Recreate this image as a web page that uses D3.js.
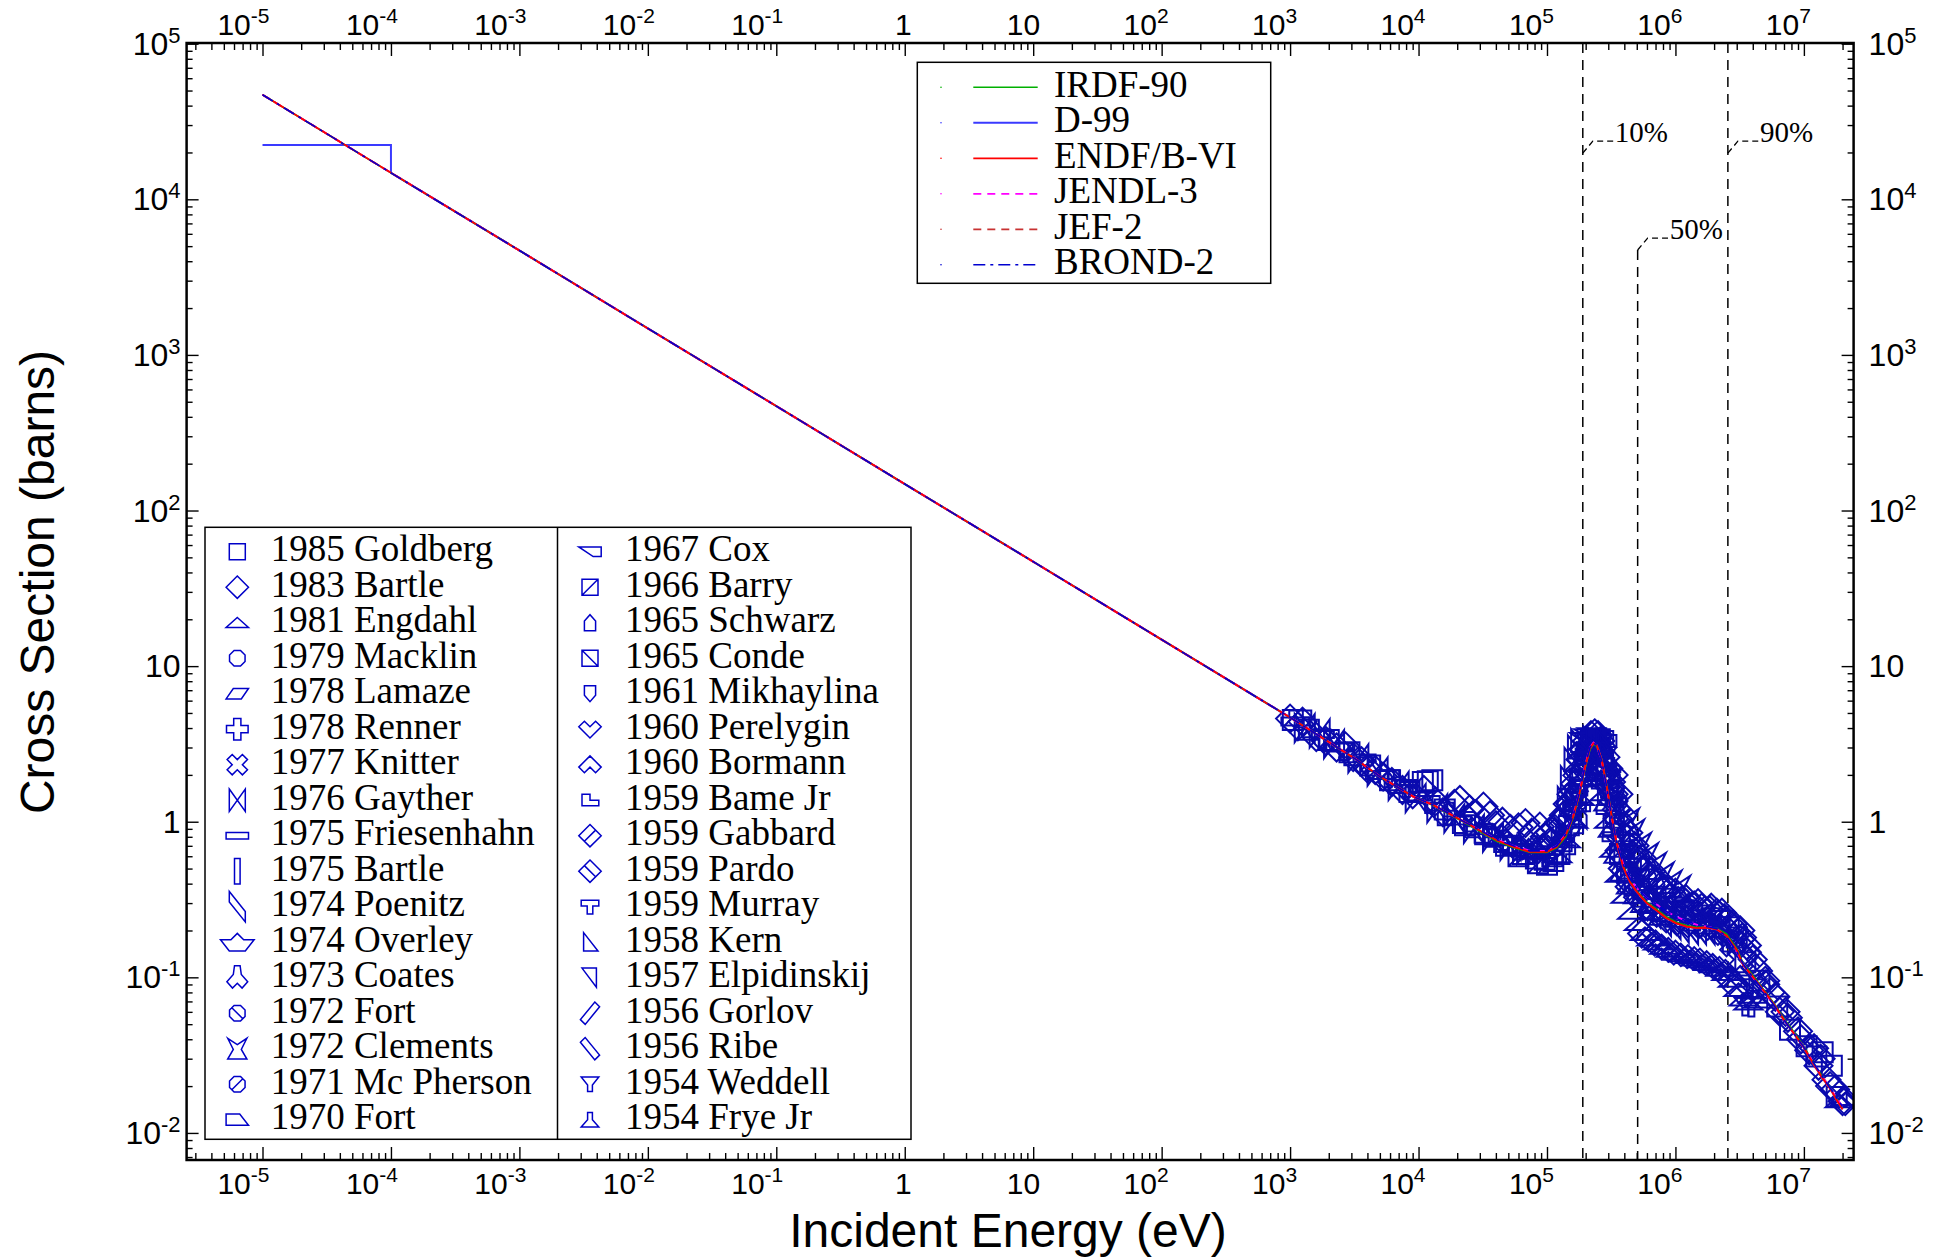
<!DOCTYPE html>
<html>
<head>
<meta charset="utf-8">
<script src="https://cdn.jsdelivr.net/npm/d3@7"></script>
<style>
  body { margin: 0; background: #fff; }
</style>
</head>
<body>
<div id="chart"></div>
<script>
// ---------------- data ----------------
const xTickPowers = [-5, -4, -3, -2, -1, 0, 1, 2, 3, 4, 5, 6, 7];
const yTickPowers = [-2, -1, 0, 1, 2, 3, 4, 5];

// evaluated cross sections, [energy eV, sigma barns]
const thermalBranch = [[1e-5, 47000], [1e-4, 14800], [1e-3, 4690], [1e-2, 1480], [1e-1, 469],
  [1, 148], [10, 46.9], [100, 14.8], [1e3, 4.68]];
const endfFast = [[3.3e3, 2.5], [5e3, 1.95], [9.1e3, 1.45], [1.3e4, 1.28], [2.37e4, 0.98], [4.05e4, 0.76],
  [5.5e4, 0.69], [7.4e4, 0.64], [1.0e5, 0.64], [1.19e5, 0.69], [1.4e5, 0.82], [1.6e5, 1.08], [1.8e5, 1.55],
  [1.98e5, 2.25], [2.16e5, 2.96], [2.3e5, 3.19], [2.44e5, 3.1], [2.67e5, 2.49], [2.92e5, 1.68], [3.19e5, 1.08],
  [3.49e5, 0.73], [3.93e5, 0.51], [4.43e5, 0.41], [4.99e5, 0.355], [5.97e5, 0.3], [7.1e5, 0.27], [8.5e5, 0.24],
  [1.02e6, 0.222], [1.22e6, 0.212], [1.46e6, 0.207], [1.75e6, 0.209], [2.1e6, 0.203], [2.5e6, 0.185],
  [3.0e6, 0.15], [3.37e6, 0.12], [4.04e6, 0.1], [4.83e6, 0.083], [5.78e6, 0.068], [6.92e6, 0.054],
  [8.28e6, 0.044], [9.9e6, 0.0358], [1.18e7, 0.028], [1.37e7, 0.023], [1.6e7, 0.0193], [1.8e7, 0.0163],
  [2.0e7, 0.0142]];
const jendlFast = [[3.3e3, 2.5], [5e3, 1.95], [9.1e3, 1.45], [1.3e4, 1.28], [2.37e4, 0.98], [4.05e4, 0.77],
  [5.5e4, 0.7], [7.4e4, 0.65], [1.0e5, 0.65], [1.19e5, 0.7], [1.4e5, 0.83], [1.6e5, 1.1], [1.8e5, 1.58],
  [1.98e5, 2.3], [2.16e5, 3.0], [2.3e5, 3.22], [2.44e5, 3.08], [2.67e5, 2.45], [2.92e5, 1.65], [3.19e5, 1.07],
  [3.49e5, 0.74], [3.93e5, 0.53], [4.43e5, 0.43], [4.99e5, 0.375], [5.97e5, 0.325], [7.1e5, 0.295], [8.5e5, 0.265],
  [1.02e6, 0.245], [1.22e6, 0.23], [1.46e6, 0.218], [1.75e6, 0.212], [2.1e6, 0.205], [2.5e6, 0.182],
  [3.0e6, 0.146], [3.37e6, 0.122], [4.04e6, 0.099], [4.83e6, 0.082], [5.78e6, 0.067], [6.92e6, 0.054],
  [8.28e6, 0.044], [9.9e6, 0.036], [1.18e7, 0.0285], [1.37e7, 0.0235], [1.6e7, 0.0195], [1.8e7, 0.0168],
  [2.0e7, 0.0148]];
const irdfFast = [[3.3e3, 2.5], [5e3, 1.94], [9.1e3, 1.45], [1.3e4, 1.27], [2.37e4, 0.97], [4.05e4, 0.75],
  [5.5e4, 0.68], [7.4e4, 0.635], [1.0e5, 0.635], [1.19e5, 0.68], [1.4e5, 0.8], [1.6e5, 1.06], [1.8e5, 1.52],
  [1.98e5, 2.2], [2.16e5, 2.9], [2.3e5, 3.15], [2.44e5, 3.05], [2.67e5, 2.5], [2.92e5, 1.7], [3.19e5, 1.1],
  [3.49e5, 0.74], [3.93e5, 0.52], [4.43e5, 0.415], [4.99e5, 0.36], [5.97e5, 0.305], [7.1e5, 0.275], [8.5e5, 0.245],
  [1.02e6, 0.226], [1.22e6, 0.215], [1.46e6, 0.21], [1.75e6, 0.21], [2.1e6, 0.206], [2.5e6, 0.19],
  [3.0e6, 0.153], [3.37e6, 0.123], [4.04e6, 0.102], [4.83e6, 0.084], [5.78e6, 0.069], [6.92e6, 0.055],
  [8.28e6, 0.045], [9.9e6, 0.0365], [1.18e7, 0.0285], [1.37e7, 0.0235], [1.6e7, 0.0196], [1.8e7, 0.0166],
  [2.0e7, 0.0146]];
const d99FirstGroup = [[1e-5, 22300], [1e-4, 22300], [1e-4, 14700]];

const evalNames = ["IRDF-90", "D-99", "ENDF/B-VI", "JENDL-3", "JEF-2", "BROND-2"];

// percentile energies of the response
const percentLabels = ["10%", "50%", "90%"];
const percentEnergies = [1.9e5, 5.08e5, 2.56e6];

// experimental data, [energy eV, sigma barns]
const goldberg1985 = [[1.05e3, 4.5], [1.4e3, 3.9], [2.0e3, 3.35], [2.9e3, 2.8], [4.2e3, 2.3], [6.0e3, 1.85],
  [8.5e3, 1.55], [1.08e4, 1.8], [1.18e4, 1.82], [1.28e4, 1.85], [1.6e4, 1.2], [2.3e4, 0.95], [3.3e4, 0.83],
  [4.8e4, 0.7], [6.5e4, 0.62], [8.2e4, 0.58], [9.6e4, 0.57], [1.1e5, 0.6], [1.3e5, 0.75], [1.48e5, 0.95],
  [1.68e5, 1.35], [1.88e5, 2.0], [2.05e5, 2.7], [2.2e5, 3.3], [2.38e5, 3.4], [2.52e5, 3.0], [2.72e5, 2.3],
  [2.98e5, 1.5], [3.3e5, 0.95], [3.7e5, 0.62], [4.2e5, 0.47], [4.8e5, 0.39], [5.6e5, 0.33], [6.5e5, 0.3],
  [8e5, 0.265], [1.0e6, 0.245], [1.3e6, 0.232], [1.7e6, 0.222], [2.2e6, 0.21], [2.8e6, 0.17], [3.5e6, 0.125],
  [4.5e6, 0.095], [6.2e6, 0.065], [7.8e6, 0.046], [1.05e7, 0.036], [1.25e7, 0.031], [1.4e7, 0.033],
  [1.65e7, 0.027], [1.8e7, 0.017]];
const bartle1983 = [[1.0e3, 4.6], [1.15e3, 4.1], [1.25e3, 4.4], [1.6e3, 3.5], [1.9e3, 3.3], [2.3e3, 3.0],
  [2.7e3, 3.05], [3.1e3, 2.6], [3.6e3, 2.45], [4.0e3, 2.2], [4.6e3, 2.15], [5.3e3, 1.95], [6.2e3, 1.8],
  [7.5e3, 1.6], [9e3, 1.5], [1.1e4, 1.6], [1.35e4, 1.35], [1.55e4, 1.15], [1.9e4, 1.3], [2.1e4, 1.38],
  [2.5e4, 1.2], [2.8e4, 1.12], [3.2e4, 1.25], [3.6e4, 1.1], [4.0e4, 0.95], [4.5e4, 1.0], [5.2e4, 0.9],
  [6.0e4, 0.92], [6.8e4, 0.98], [7.6e4, 0.85], [8.8e4, 0.93], [9.6e4, 0.8], [1.05e5, 0.85], [1.15e5, 0.9],
  [1.25e5, 1.0], [1.35e5, 1.1], [1.45e5, 1.3], [1.55e5, 1.5], [1.65e5, 1.75], [1.75e5, 2.1], [1.85e5, 2.5],
  [1.95e5, 2.9], [2.05e5, 3.3], [2.2e5, 3.6], [2.35e5, 3.7], [2.5e5, 3.6], [2.6e5, 3.3], [2.7e5, 3.0],
  [2.85e5, 2.6], [3.0e5, 2.2], [3.15e5, 1.8], [3.3e5, 1.5], [3.5e5, 1.2], [3.75e5, 0.95], [4.0e5, 0.8],
  [4.3e5, 0.7], [4.6e5, 0.62], [5.0e5, 0.55], [5.5e5, 0.49], [6.2e5, 0.44], [7.0e5, 0.4], [8.0e5, 0.36],
  [9.2e5, 0.33], [1.05e6, 0.31], [1.2e6, 0.3], [1.4e6, 0.29], [1.6e6, 0.28], [1.85e6, 0.27], [2.1e6, 0.26],
  [2.4e6, 0.24], [2.8e6, 0.21], [3.2e6, 0.175], [3.6e6, 0.145], [4.2e6, 0.115], [5e6, 0.09], [6e6, 0.075],
  [7.5e6, 0.055], [9e6, 0.045], [1.1e7, 0.034], [1.3e7, 0.027], [1.5e7, 0.022], [1.75e7, 0.019], [2.0e7, 0.016]];
const engdahl1981 = [[1.2e5, 0.6], [1.4e5, 0.75], [1.6e5, 1.0], [1.8e5, 1.4], [2.0e5, 2.0], [2.15e5, 2.6],
  [2.3e5, 2.9], [2.45e5, 2.8], [2.6e5, 2.2], [2.8e5, 1.5], [3.05e5, 1.0], [3.35e5, 0.65], [3.7e5, 0.45],
  [4.1e5, 0.33], [4.6e5, 0.26], [5.2e5, 0.22], [5.8e5, 0.19], [6.5e5, 0.175], [7.3e5, 0.165], [8.2e5, 0.155],
  [9.2e5, 0.148], [1.03e6, 0.142], [1.16e6, 0.138], [1.3e6, 0.135], [1.45e6, 0.13], [1.62e6, 0.127],
  [1.8e6, 0.122], [2.0e6, 0.118], [2.25e6, 0.112], [2.5e6, 0.105], [2.8e6, 0.095], [3.1e6, 0.083],
  [3.4e6, 0.072], [3.7e6, 0.068], [4.0e6, 0.075], [4.4e6, 0.07], [1.9e7, 0.016], [2.1e7, 0.0165]];
const macklin1979 = [[2.5e4, 1.0], [3.5e4, 0.84], [4.5e4, 0.76], [6e4, 0.66], [8e4, 0.63]];
const lamaze1978 = [[1.25e5, 0.72], [1.45e5, 0.85], [1.62e5, 1.2], [1.78e5, 1.7], [1.92e5, 2.3], [2.08e5, 2.9],
  [2.25e5, 3.1], [2.4e5, 3.05], [2.58e5, 2.6], [2.78e5, 1.9], [3.0e5, 1.3], [3.25e5, 0.88], [3.6e5, 0.6],
  [4.0e5, 0.46], [4.5e5, 0.38], [5.1e5, 0.33], [5.8e5, 0.29], [6.8e5, 0.26], [8e5, 0.24]];
const renner1978 = [[1.3e5, 0.66], [1.5e5, 0.9], [1.7e5, 1.25], [1.9e5, 1.8], [2.1e5, 2.5], [2.28e5, 3.0],
  [2.45e5, 2.95], [2.62e5, 2.4], [2.85e5, 1.75], [3.1e5, 1.2], [3.45e5, 0.8]];
const knitter1977 = [[3.8e5, 0.55], [4.3e5, 0.42], [5e5, 0.36], [5.8e5, 0.31], [6.8e5, 0.28], [8e5, 0.255],
  [9.5e5, 0.235], [1.15e6, 0.225], [1.4e6, 0.218], [1.7e6, 0.215], [2.0e6, 0.21], [2.4e6, 0.195],
  [2.8e6, 0.165], [3.2e6, 0.13]];
const gayther1976 = [[1.3e3, 4.0], [1.7e3, 3.7], [2.2e3, 3.15], [3.4e3, 2.55], [4.8e3, 2.1], [7e3, 1.7],
  [9.5e3, 1.42], [1.4e4, 1.22], [1.9e4, 1.05], [2.7e4, 0.9], [3.8e4, 0.79], [5.2e4, 0.7], [7e4, 0.66]];
const friesenhahn1975 = [[1.1e3, 4.4], [1.6e3, 3.7], [2.4e3, 3.0], [3.4e3, 2.45], [5e3, 2.0], [7.5e3, 1.62],
  [1.0e4, 1.45], [1.45e4, 1.25], [2.0e4, 1.02], [2.9e4, 0.88], [4.2e4, 0.75], [5.8e4, 0.67], [7.8e4, 0.63],
  [9e4, 0.62], [1.05e5, 0.65]];
const poenitz1974 = [[1.7e5, 1.2], [2.0e5, 2.2], [2.3e5, 3.1], [2.6e5, 2.5], [2.9e5, 1.6]];
const coates1973 = [[3.6e5, 0.7], [4.0e5, 0.52], [4.4e5, 0.44], [4.9e5, 0.38], [5.6e5, 0.32], [6.4e5, 0.28]];
const fort1972 = [[1.5e5, 1.2], [1.65e5, 1.6], [1.8e5, 2.0], [1.95e5, 2.5], [2.1e5, 3.0], [2.2e5, 3.4],
  [2.45e5, 3.3], [2.6e5, 2.9], [2.75e5, 2.6], [2.9e5, 2.3], [3.1e5, 1.9], [3.3e5, 1.6], [3.5e5, 1.35]];
const clements1972 = [[4.2e5, 1.0], [4.6e5, 0.85], [5.2e5, 0.7], [5.9e5, 0.6], [6.8e5, 0.52], [7.8e5, 0.45],
  [9e5, 0.4], [1.05e6, 0.37]];
const cox1967 = [[1.95e5, 3.4], [2.1e5, 3.6], [2.25e5, 3.65], [2.4e5, 3.6], [2.55e5, 3.5], [2.7e5, 3.3]];
const barry1966 = [[6e4, 0.6], [8.5e4, 0.54], [1.0e5, 0.53], [1.12e5, 0.56], [1.25e5, 0.62]];
const schwarz1965 = [[1.6e4, 1.1], [2.1e4, 0.98], [2.6e4, 0.92], [3.1e4, 0.85], [3.7e4, 0.8], [4.4e4, 0.74],
  [5.1e4, 0.72], [6.1e4, 0.69], [7.2e4, 0.67], [8.4e4, 0.66]];
const conde1965 = [[4.0e5, 0.6], [4.5e5, 0.5], [5.2e5, 0.42], [6.0e5, 0.37], [7.0e5, 0.33], [8.3e5, 0.3],
  [9.8e5, 0.28], [1.15e6, 0.27], [1.35e6, 0.26], [1.6e6, 0.25], [1.9e6, 0.24], [2.2e6, 0.23], [2.6e6, 0.21],
  [3.0e6, 0.18]];
const mikhaylina1961 = [[1.35e5, 0.8], [1.55e5, 1.1], [1.72e5, 1.5], [1.88e5, 2.1], [2.0e5, 2.6], [2.12e5, 3.2],
  [2.3e5, 3.4], [2.5e5, 3.2], [2.65e5, 2.8], [2.8e5, 2.2], [2.95e5, 1.8], [3.1e5, 1.5], [3.3e5, 1.2],
  [3.5e5, 0.95]];
const perelygin1960 = [[9e4, 0.7], [1.05e5, 0.72], [1.18e5, 0.78], [1.3e5, 0.9], [1.42e5, 1.05], [1.52e5, 1.25],
  [1.62e5, 1.5], [1.72e5, 1.9], [1.82e5, 2.4], [1.92e5, 2.8], [2.9e5, 2.0], [3.1e5, 1.6], [3.3e5, 1.3],
  [3.55e5, 1.0], [3.8e5, 0.75]];
const bormann1960 = [[5.5e5, 0.2], [6.2e5, 0.18], [7.0e5, 0.17], [7.8e5, 0.16], [8.8e5, 0.152], [1.0e6, 0.146],
  [1.1e6, 0.14], [1.25e6, 0.137], [1.4e6, 0.133], [1.55e6, 0.13], [1.75e6, 0.125], [1.95e6, 0.12],
  [2.2e6, 0.115], [2.45e6, 0.11], [2.7e6, 0.1], [3.0e6, 0.09]];
const gabbard1959 = [[3.3e5, 2.0], [3.6e5, 1.5], [3.9e5, 1.1], [4.3e5, 0.85], [4.8e5, 0.7], [5.5e5, 0.58],
  [6.5e5, 0.48], [8e5, 0.4], [1.0e6, 0.35], [1.2e6, 0.32], [1.5e6, 0.3], [1.9e6, 0.28], [2.3e6, 0.26],
  [2.8e6, 0.22], [3.3e6, 0.18]];
const pardo1959 = [[3.2e6, 0.2], [3.6e6, 0.16], [4.0e6, 0.13], [4.4e6, 0.11], [5e6, 0.095], [5.5e6, 0.08],
  [6.5e6, 0.06], [7.2e6, 0.06], [9.5e6, 0.04], [1.2e7, 0.035], [1.35e7, 0.03], [1.6e7, 0.02], [2.1e7, 0.016]];
const murray1959 = [[1.2e3, 4.6], [1.8e3, 3.4], [2.6e3, 2.85], [3.8e3, 2.4], [5.8e3, 1.9], [8e3, 1.65], [1.2e4, 1.3]];
const kern1958 = [[1.4e5, 1.4], [1.48e5, 1.9], [1.58e5, 2.5], [1.68e5, 3.0], [1.78e5, 3.3], [2.8e5, 3.3],
  [3.0e5, 2.7], [3.2e5, 2.1]];
const elpidinskij1957 = [[6.6e5, 0.25], [8e5, 0.22], [9.5e5, 0.21], [1.1e6, 0.2], [1.3e6, 0.195], [1.5e6, 0.195],
  [1.75e6, 0.195], [2.0e6, 0.19], [2.3e6, 0.18], [2.6e6, 0.165]];
const weddell1954 = [[3.8e6, 0.09], [4.2e6, 0.085], [3.5e6, 0.065], [3.9e6, 0.064]];

const expLabels = ["1985 Goldberg", "1983 Bartle", "1981 Engdahl", "1979 Macklin", "1978 Lamaze",
  "1978 Renner", "1977 Knitter", "1976 Gayther", "1975 Friesenhahn", "1975 Bartle", "1974 Poenitz",
  "1974 Overley", "1973 Coates", "1972 Fort", "1972 Clements", "1971 Mc Pherson", "1970 Fort",
  "1967 Cox", "1966 Barry", "1965 Schwarz", "1965 Conde", "1961 Mikhaylina", "1960 Perelygin",
  "1960 Bormann", "1959 Bame Jr", "1959 Gabbard", "1959 Pardo", "1959 Murray", "1958 Kern",
  "1957 Elpidinskij", "1956 Gorlov", "1956 Ribe", "1954 Weddell", "1954 Frye Jr"];
const expData = [goldberg1985, bartle1983, engdahl1981, macklin1979, lamaze1978, renner1978, knitter1977,
  gayther1976, friesenhahn1975, [], poenitz1974, [], coates1973, fort1972, clements1972, [], [],
  cox1967, barry1966, schwarz1965, conde1965, mikhaylina1961, perelygin1960, bormann1960, [],
  gabbard1959, pardo1959, murray1959, kern1958, elpidinskij1957, [], [], weddell1954, []];

// ---------------- styles ----------------
const evalColor = { "IRDF-90": "#00b000", "D-99": "#3a3aff", "ENDF/B-VI": "#ff0000",
  "JENDL-3": "#ff00ff", "JEF-2": "#c83232", "BROND-2": "#0000d0" };
const evalDash = { "IRDF-90": null, "D-99": null, "ENDF/B-VI": null,
  "JENDL-3": "8,6", "JEF-2": "8,6", "BROND-2": "12,5,3,5" };
const evalWidth = { "IRDF-90": 1.6, "D-99": 2, "ENDF/B-VI": 1.8, "JENDL-3": 1.8, "JEF-2": 1.8, "BROND-2": 1.6 };
const markColor = "#0a0aae";

const oct = d3.range(8).map(k => {
  const a = Math.PI / 8 + k * Math.PI / 4;
  return [1.05 * Math.cos(a), 1.05 * Math.sin(a)];
});
const sq = [[-1, -1], [1, -1], [1, 1], [-1, 1]];
const dia = [[0, -1.4], [1.4, 0], [0, 1.4], [-1.4, 0]];
const plusPts = [[-0.45, -1.35], [0.45, -1.35], [0.45, -0.45], [1.35, -0.45], [1.35, 0.45], [0.45, 0.45],
  [0.45, 1.35], [-0.45, 1.35], [-0.45, 0.45], [-1.35, 0.45], [-1.35, -0.45], [-0.45, -0.45]];
const symbols = [
  { poly: sq },
  { poly: dia },
  { poly: [[0, -0.65], [1.4, 0.6], [-1.4, 0.6]] },
  { poly: oct },
  { poly: [[-0.5, -0.65], [1.4, -0.65], [0.5, 0.65], [-1.4, 0.65]] },
  { poly: plusPts },
  { poly: plusPts.map(p => [(p[0] - p[1]) / Math.SQRT2, (p[0] + p[1]) / Math.SQRT2]) },
  { poly: [[-1, -1.4], [1, 1.4], [1, -1.4], [-1, 1.4]] },
  { poly: [[-1.4, -0.4], [1.4, -0.4], [1.4, 0.4], [-1.4, 0.4]] },
  { poly: [[-0.35, -1.6], [0.35, -1.6], [0.35, 1.6], [-0.35, 1.6]] },
  { poly: [[-1, -1.9], [-1, -0.6], [1, 1.9], [1, 0.6]] },
  { poly: [[-2.1, -0.3], [-0.8, -0.3], [0, -1.1], [0.8, -0.3], [2.1, -0.3], [1.0, 1.1], [-1.0, 1.1]] },
  { poly: [[-0.35, -1.5], [0.35, -1.5], [0.5, -0.4], [1.3, 0.5], [0.6, 1.3], [0, 0.7], [-0.6, 1.3], [-1.3, 0.5], [-0.5, -0.4]] },
  { poly: oct, extra: [[[-0.75, -0.75], [0.75, 0.75]]] },
  { poly: [[-1.2, -1.3], [0, -0.5], [1.2, -1.3], [0.5, 0.1], [1.2, 1.3], [-1.2, 1.3], [-0.5, 0.1]] },
  { poly: oct, extra: [[[-0.75, 0.75], [0.75, -0.75]]] },
  { poly: [[-1.4, -0.7], [0.3, -0.7], [1.4, 0.7], [-1.4, 0.7]] },
  { poly: [[-1.4, -0.6], [1.4, -0.6], [1.4, 0.6], [0.4, 0.6]] },
  { poly: sq, extra: [[[-1, 1], [1, -1]]] },
  { poly: [[-0.7, 1], [-0.7, -0.2], [0, -1], [0.7, -0.2], [0.7, 1]] },
  { poly: sq, extra: [[[-1, -1], [1, 1]]] },
  { poly: [[-0.7, -1], [0.7, -1], [0.7, 0.2], [0, 1], [-0.7, 0.2]] },
  { poly: [[-1.4, -0.3], [-0.7, -1.0], [0, -0.3], [0.7, -1.0], [1.4, -0.3], [0, 1.1]] },
  { poly: [[-1.4, 0.3], [0, -1.1], [1.4, 0.3], [0.7, 1.0], [0, 0.3], [-0.7, 1.0]] },
  { poly: [[-1, -0.75], [0, -0.75], [0, 0], [1.1, 0], [1.1, 0.7], [-1, 0.7]] },
  { poly: dia, extra: [[[-0.7, 0.7], [0.7, -0.7]]] },
  { poly: dia, extra: [[[-0.7, -0.7], [0.7, 0.7]]] },
  { poly: [[-1.1, -0.8], [1.1, -0.8], [1.1, -0.1], [0.35, -0.1], [0.35, 0.9], [-0.35, 0.9], [-0.35, -0.1], [-1.1, -0.1]] },
  { poly: [[-0.8, -1.2], [1, 1.1], [-0.8, 1.1]] },
  { poly: [[-1, -1.2], [0.8, -1.2], [0.8, 1.2]] },
  { poly: [[0.6, -1.4], [1.2, -0.8], [-0.6, 1.4], [-1.2, 0.8]] },
  { poly: [[-0.6, -1.4], [-1.2, -0.8], [0.6, 1.4], [1.2, 0.8]] },
  { poly: [[-1.1, -0.9], [1.1, -0.9], [0.3, 0.1], [0.3, 0.9], [-0.3, 0.9], [-0.3, 0.1]] },
  { poly: [[-0.3, -0.9], [0.3, -0.9], [0.3, 0.0], [1.1, 0.9], [-1.1, 0.9], [-0.3, 0.0]] }
];
function symbolPath(sym, unit) {
  const f = p => (p[0] * unit).toFixed(2) + "," + (p[1] * unit).toFixed(2);
  let d = "M" + sym.poly.map(f).join("L") + "Z";
  (sym.extra || []).forEach(seg => { d += "M" + seg.map(f).join("L"); });
  return d;
}

// ---------------- canvas ----------------
const width = 1937, height = 1259;
const plot = { left: 186.6, right: 1853.6, top: 43, bottom: 1160 };
const sans = "'Liberation Sans', Arial, Helvetica, sans-serif";
const serif = "'Liberation Serif', 'Times New Roman', Times, serif";

const svg = d3.select("#chart").append("svg")
  .attr("width", width).attr("height", height)
  .style("background", "#fff");

const x = d3.scaleLog().domain([2.565e-6, 2.438e7]).range([plot.left, plot.right]);
const y = d3.scaleLog().domain([0.0067, 1.0104e5]).range([plot.bottom, plot.top]);

svg.append("defs").append("clipPath").attr("id", "clip")
  .append("rect").attr("x", plot.left).attr("y", plot.top)
  .attr("width", plot.right - plot.left).attr("height", plot.bottom - plot.top);

// ---------------- axes ----------------
function minorTicks(scale) {
  const [a, b] = scale.domain();
  const out = [];
  for (let p = Math.floor(Math.log10(a)); p <= Math.ceil(Math.log10(b)); p++) {
    for (let m = 2; m <= 9; m++) {
      const v = m * Math.pow(10, p);
      if (v > a && v < b) out.push(v);
    }
  }
  return out;
}
const xMajor = xTickPowers.map(p => Math.pow(10, p));
const yMajor = yTickPowers.map(p => Math.pow(10, p));

function drawTicks(axisFn, scale, values, size, transform) {
  const g = svg.append("g").attr("transform", transform)
    .call(axisFn(scale).tickValues(values).tickSize(size).tickFormat(""));
  g.select(".domain").remove();
  g.selectAll("text").remove();
  g.selectAll("line").attr("stroke", "#000").attr("stroke-width", 1.4);
}
drawTicks(d3.axisTop, x, xMajor, -13, `translate(0,${plot.top})`);
drawTicks(d3.axisTop, x, minorTicks(x), -7, `translate(0,${plot.top})`);
drawTicks(d3.axisBottom, x, xMajor, -13, `translate(0,${plot.bottom})`);
drawTicks(d3.axisBottom, x, minorTicks(x), -7, `translate(0,${plot.bottom})`);
drawTicks(d3.axisLeft, y, yMajor, -12, `translate(${plot.left},0)`);
drawTicks(d3.axisLeft, y, minorTicks(y), -6, `translate(${plot.left},0)`);
drawTicks(d3.axisRight, y, yMajor, -12, `translate(${plot.right},0)`);
drawTicks(d3.axisRight, y, minorTicks(y), -6, `translate(${plot.right},0)`);

function powerLabel(sel, p, supSize, supShift) {
  if (p === 0) { sel.text("1"); return; }
  if (p === 1) { sel.text("10"); return; }
  sel.append("tspan").text("10");
  sel.append("tspan").attr("dy", -supShift).attr("font-size", supSize).text(p);
}

// x labels top and bottom
[35, 1194].forEach(base => {
  svg.append("g").selectAll("text").data(xTickPowers).join("text")
    .attr("x", p => x(Math.pow(10, p)) + 7)
    .attr("y", base)
    .attr("text-anchor", "end")
    .attr("font-family", sans).attr("font-size", 30)
    .each(function (p) { powerLabel(d3.select(this), p, 21, 12); });
});
// y labels left and right
[{ x: plot.left - 6, anchor: "end" }, { x: plot.right + 15, anchor: "start" }].forEach(side => {
  svg.append("g").selectAll("text").data(yTickPowers).join("text")
    .attr("x", side.x)
    .attr("y", p => y(Math.pow(10, p)) + 11)
    .attr("text-anchor", side.anchor)
    .attr("font-family", sans).attr("font-size", 32)
    .each(function (p) { powerLabel(d3.select(this), p, 22, 12); });
});

// axis titles
svg.append("text")
  .attr("x", 1008).attr("y", 1247)
  .attr("text-anchor", "middle")
  .attr("font-family", sans).attr("font-size", 48)
  .text("Incident Energy (eV)");
svg.append("text")
  .attr("transform", `translate(54,582) rotate(-90)`)
  .attr("text-anchor", "middle")
  .attr("font-family", sans).attr("font-size", 48)
  .text("Cross Section (barns)");

// ---------------- plot body ----------------
const body = svg.append("g").attr("clip-path", "url(#clip)");

// percentile lines
const leaderStart = [plot.top, null, plot.top];
const leaderSigma = [19800, 4720, 19800];
percentEnergies.forEach((e, i) => {
  const xe = x(e);
  const ly = y(leaderSigma[i]);
  body.append("line")
    .attr("x1", xe).attr("x2", xe)
    .attr("y1", leaderStart[i] === null ? ly : leaderStart[i]).attr("y2", plot.bottom)
    .attr("stroke", "#000").attr("stroke-width", 1.5).attr("stroke-dasharray", "10,7");
  body.append("path")
    .attr("d", d3.line()([[xe, ly], [xe + 10, ly - 12], [xe + 31, ly - 12]]))
    .attr("fill", "none").attr("stroke", "#000").attr("stroke-width", 1.3)
    .attr("stroke-dasharray", "6,4");
  body.append("text")
    .attr("x", xe + 32).attr("y", ly - 11)
    .attr("font-family", serif).attr("font-size", 29)
    .text(percentLabels[i]);
});

// experimental points
expData.forEach((data, i) => {
  const d = symbolPath(symbols[i], 10);
  body.append("g").selectAll("path").data(data).join("path")
    .attr("transform", p => `translate(${x(p[0])},${y(p[1])})`)
    .attr("d", d)
    .attr("fill", "none").attr("stroke", markColor).attr("stroke-width", 2);
});

// evaluations
const line = d3.line().x(p => x(p[0])).y(p => y(p[1]));
const evalData = {
  "IRDF-90": thermalBranch.concat(irdfFast),
  "D-99": d99FirstGroup.concat(thermalBranch.slice(1), endfFast),
  "ENDF/B-VI": thermalBranch.concat(endfFast),
  "JENDL-3": thermalBranch.concat(jendlFast),
  "JEF-2": thermalBranch.concat(endfFast),
  "BROND-2": thermalBranch.concat(jendlFast)
};
["D-99", "IRDF-90", "JEF-2", "JENDL-3", "ENDF/B-VI", "BROND-2"].forEach(name => {
  body.append("path")
    .attr("d", line(evalData[name]))
    .attr("fill", "none")
    .attr("stroke", evalColor[name])
    .attr("stroke-width", evalWidth[name])
    .attr("stroke-dasharray", evalDash[name]);
});

// frame
svg.append("rect")
  .attr("x", plot.left).attr("y", plot.top)
  .attr("width", plot.right - plot.left).attr("height", plot.bottom - plot.top)
  .attr("fill", "none").attr("stroke", "#000").attr("stroke-width", 2.5);

// ---------------- evaluation legend ----------------
const leg1 = svg.append("g");
leg1.append("rect").attr("x", 917.3).attr("y", 62.3).attr("width", 353.4).attr("height", 221)
  .attr("fill", "#fff").attr("stroke", "#000").attr("stroke-width", 1.5);
evalNames.forEach((name, i) => {
  const cy = 87.3 + i * 35.5;
  leg1.append("circle").attr("cx", 941).attr("cy", cy).attr("r", 0.8).attr("fill", evalColor[name]);
  leg1.append("line").attr("x1", 973.3).attr("x2", 1037.7).attr("y1", cy).attr("y2", cy)
    .attr("stroke", evalColor[name]).attr("stroke-width", evalWidth[name])
    .attr("stroke-dasharray", evalDash[name]);
  leg1.append("text").attr("x", 1054).attr("y", cy + 9.5)
    .attr("font-family", serif).attr("font-size", 37).text(name);
});

// ---------------- experiment legend ----------------
const leg2 = svg.append("g");
leg2.append("rect").attr("x", 205).attr("y", 527.3).attr("width", 706).attr("height", 612)
  .attr("fill", "#fff").attr("stroke", "#000").attr("stroke-width", 1.5);
leg2.append("line").attr("x1", 557.5).attr("x2", 557.5).attr("y1", 527.3).attr("y2", 1139.3)
  .attr("stroke", "#000").attr("stroke-width", 1.5);
expLabels.forEach((label, i) => {
  const col = i < 17 ? 0 : 1;
  const row = i % 17;
  const cy = 551.7 + row * 35.5;
  const sx = col === 0 ? 237.3 : 590;
  const tx = col === 0 ? 270.7 : 625;
  leg2.append("path").attr("transform", `translate(${sx},${cy})`)
    .attr("d", symbolPath(symbols[i], 8))
    .attr("fill", "none").attr("stroke", "#0000c8").attr("stroke-width", 1.5);
  leg2.append("text").attr("x", tx).attr("y", cy + 9.5)
    .attr("font-family", serif).attr("font-size", 37).text(label);
});
</script>
</body>
</html>
